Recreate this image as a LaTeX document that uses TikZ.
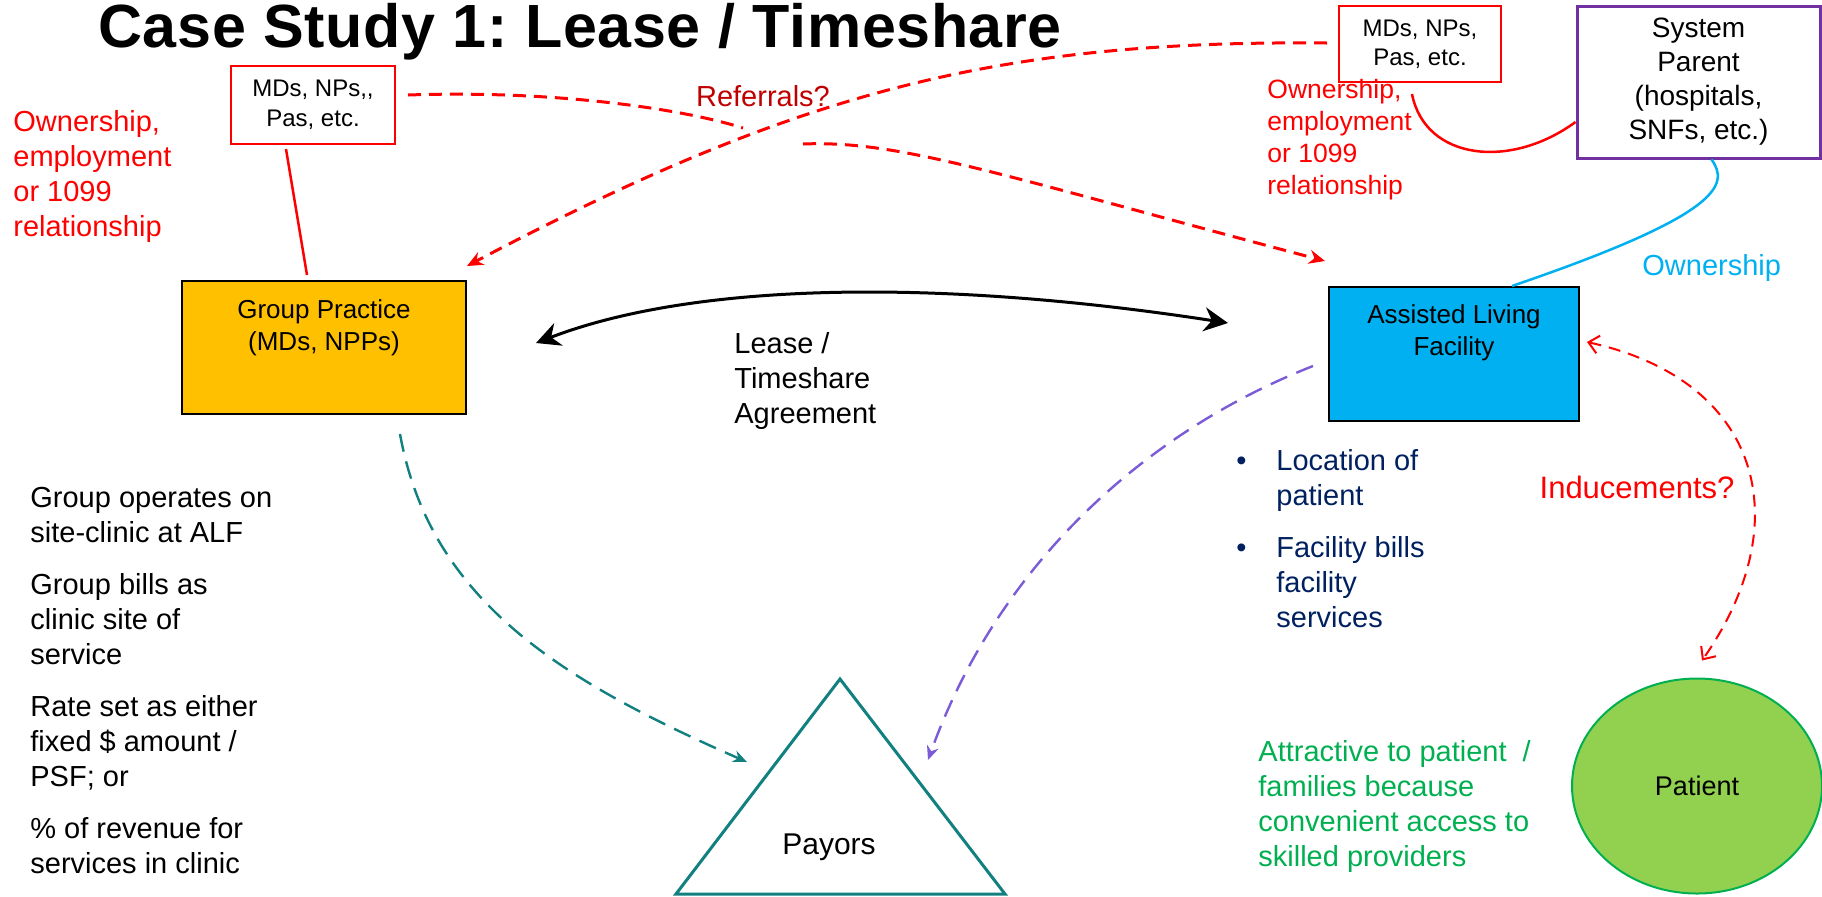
\documentclass[tikz,border=0pt]{standalone}
\usepackage{fontspec}
\setmainfont{Liberation Sans}
\usetikzlibrary{arrows.meta,shapes.geometric,positioning}
\frenchspacing

\definecolor{gpyellow}{HTML}{FFC000}
\definecolor{alfblue}{HTML}{00B0F0}
\definecolor{parentpurple}{HTML}{7030A0}
\definecolor{payteal}{HTML}{128080}
\definecolor{billpurple}{HTML}{7B5CD6}
\definecolor{refred}{HTML}{C00000}
\definecolor{navytext}{HTML}{002060}
\definecolor{greentext}{HTML}{00B050}
\definecolor{patgreen}{HTML}{92D050}

\newcommand{\bodysize}{\fontsize{14.5}{17.5}\selectfont}
\newcommand{\mdsize}{\fontsize{12}{15}\selectfont}
\newcommand{\facsize}{\fontsize{13}{16}\selectfont}
\newcommand{\titlesize}{\fontsize{30.5}{36}\selectfont\bfseries\addfontfeatures{LetterSpace=1}}

\begin{document}
\begin{tikzpicture}[x=0.5pt, y=-0.5pt, every node/.style={font=\bodysize, inner sep=0pt},
  mdbox/.style={draw=red, line width=1pt, fill=white, align=center, font=\mdsize},
  facbox/.style={draw=black, line width=1pt},
  referral/.style={red, line width=1.5pt, dash pattern=on 6.5pt off 4pt, -{Stealth[length=8pt,width=7pt]}},
  billing/.style={line width=1.2pt, dash pattern=on 9pt off 5pt, -{Stealth[length=7pt,width=6pt]}}]
\useasboundingbox (0,0) rectangle (1822,896);

\node (title) [anchor=base west, font=\titlesize] at (98,47) {Case Study 1: Lease / Timeshare};

% providers and owners
\node (mdsL) [mdbox, minimum width=82pt, minimum height=39pt] at (313,105) {MDs, NPs,{},\\Pas, etc.};
\node (mdsR) [mdbox, minimum width=81pt, minimum height=38pt, font=\fontsize{12}{14.5}\selectfont] at (1420,44) {MDs, NPs,\\Pas, etc.};
\node (sp) [draw=parentpurple, line width=1.5pt, minimum width=121.5pt, minimum height=76pt, align=center, font=\fontsize{14}{17}\selectfont] at (1698.5,82) {System\\Parent\\(hospitals,\\SNFs, etc.)};

\node (ownL) [anchor=west, align=left, text=red] at (13,176) {Ownership,\\employment\\or 1099\\relationship};
\node (ownR) [anchor=west, align=left, text=red, font=\fontsize{13.25}{16}\selectfont] at (1267,140) {Ownership,\\employment\\or 1099\\relationship};
\node (ownB) [anchor=west, text=alfblue] at (1642,268) {Ownership};
\node (refq) [text=refred] at (763,96) {Referrals?};

% the two parties
\node (gp) [facbox, fill=gpyellow, minimum width=142pt, minimum height=66.5pt] at (324,347.5) {};
\node (gptext) [below=9.5pt of gp.north, align=center, font=\facsize] {Group Practice\\(MDs, NPPs)};
\node (alf) [facbox, fill=alfblue, minimum width=125pt, minimum height=67pt] at (1454,354) {};
\node (alftext) [below=9pt of alf.north, align=center, font=\facsize] {Assisted Living\\Facility};

\node (lease) [anchor=west, align=left] at (734,381) {Lease /\\Timeshare\\Agreement};

\node (groupnotes) [anchor=west, align=left] at (30,681) {Group operates on\\site-clinic at ALF\\[8.5pt]Group bills as\\clinic site of\\service\\[8.5pt]Rate set as either\\fixed \$ amount /\\PSF; or\\[8.5pt]\% of revenue for\\services in clinic};
\node (alfnotes) [anchor=west, align=left, text=navytext] at (1276,539) {\llap{\textbullet\hspace{15pt}}Location of\\patient\\[8.5pt]\llap{\textbullet\hspace{15pt}}Facility bills\\facility\\services};
\node (attract) [anchor=west, align=left, text=greentext] at (1258,806.5) {Attractive to patient\ \ /\\families because\\convenient access to\\skilled providers};

% payors and patient
\draw[payteal, line width=1.5pt, fill=white] (840,679) -- (1005,894) -- (676,894) -- cycle;
\node (pay) [font=\fontsize{15}{18}\selectfont] at (829,847) {Payors};
\node (pat) [ellipse, draw=greentext, line width=1pt, fill=patgreen, minimum width=125pt, minimum height=107.5pt, font=\fontsize{13.5}{16}\selectfont] at (1697,786) {Patient};
\node (induce) [text=red, font=\fontsize{15.5}{18}\selectfont] at (1637,487) {Inducements?};

% relationships
\draw[red, line width=1.25pt] ([shift={(-27,4)}]mdsL.south) -- ([shift={(-17,-5)}]gp.north);
\draw[red, line width=1.25pt] ([shift={(-8,11)}]mdsR.south) .. controls (1425,160) and (1510,170) .. ([shift={(0,40)}]sp.west);
\draw[alfblue, line width=1.25pt] ([shift={(13,0)}]sp.south) .. controls (1730,185) and (1720,215) .. ([shift={(58,0)}]alf.north);

\coordinate (refA) at (743,128);
\coordinate (refB) at (803,144);
\draw[red, line width=1.5pt, dash pattern=on 6.5pt off 4pt] ([shift={(12,-10)}]mdsL.east) .. controls (550,90) and (680,108) .. (refA);
\draw[referral] (refB) .. controls (900,140) and (1000,175) .. ([shift={(-3,-25)}]alf.north west);
\draw[referral] ([shift={(-11,-1)}]mdsR.west) .. controls (1000,40) and (800,90) .. ([shift={(0,-14)}]gp.north east);

\draw[{Stealth[length=12pt,width=12pt]}-{Stealth[length=12pt,width=12pt]}, line width=1.5pt] ([shift={(69,-4.5)}]gp.east) .. controls (700,280) and (950,280) .. ([shift={(-100,-31)}]alf.west);

\draw[billing, payteal] ([shift={(76,19)}]gp.south) .. controls (430,600) and (560,680) .. ([shift={(-82,-85)}]pay.center);
\draw[billing, billpurple] ([shift={(-15,12)}]alf.west) .. controls (1150,430) and (1000,560) .. ([shift={(99,-87)}]pay.center);

\draw[red, line width=1pt, dash pattern=on 6pt off 4pt, {Straight Barb[length=5pt,width=9pt]}-{Straight Barb[length=5pt,width=9pt]}] ([shift={(7,-12)}]alf.east) .. controls (1760,380) and (1800,520) .. ([shift={(5,-17)}]pat.north);
\end{tikzpicture}
\end{document}
